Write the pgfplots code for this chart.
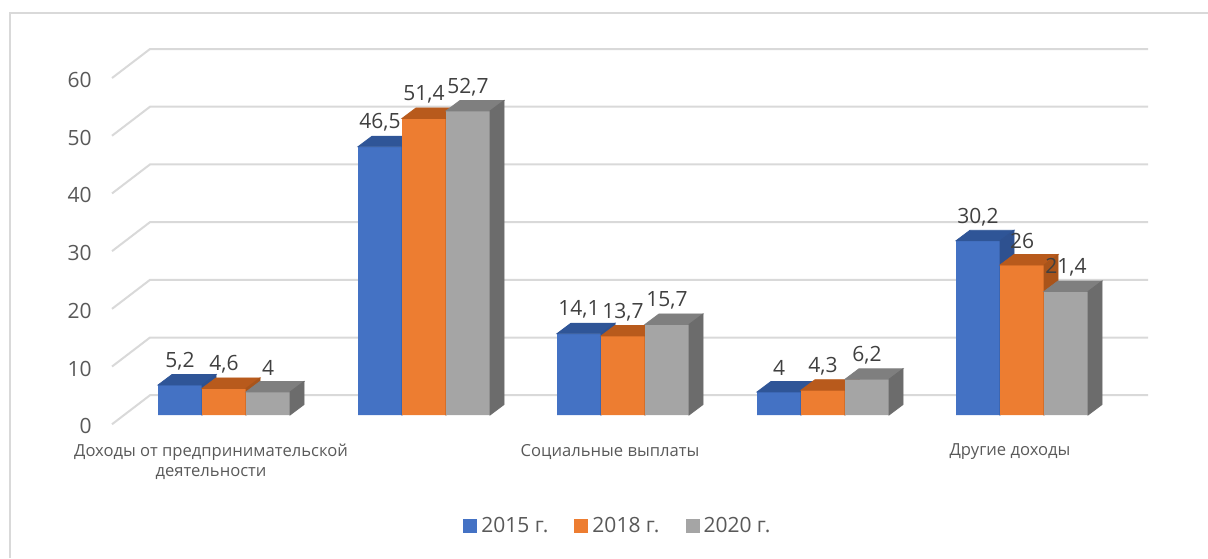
\documentclass[border=0pt]{standalone}
\usepackage{pgfplots}
\usepackage{pgfplotstable}
\pgfplotsset{compat=1.18}
\usepackage{fontspec}
\setmainfont{Open Sans}
\definecolor{c1}{HTML}{4472C4}
\definecolor{c2}{HTML}{ED7D31}
\definecolor{c3}{HTML}{A5A5A5}
\definecolor{t1}{HTML}{2F5597}
\definecolor{t2}{HTML}{B85A1C}
\definecolor{t3}{HTML}{7F7F7F}
\definecolor{s1}{HTML}{2E5190}
\definecolor{s2}{HTML}{A9541A}
\definecolor{s3}{HTML}{6C6C6C}
\definecolor{gridc}{HTML}{D9D9D9}
\definecolor{txt}{HTML}{595959}
\newcommand\defbarmark[3]{%
 \pgfdeclareplotmark{#1}{%
  \pgfmathsetmacro\hh{\myh*2.885}%
  \pgfmathsetmacro\hb{5.25-\hh}%
  \fill[#2] (-11pt,0pt) -- (11pt,0pt) -- (18pt,5.25pt) -- (-4pt,5.25pt) -- cycle;
  \fill[#3] (11pt,0pt) -- (18pt,5.25pt) -- (18pt,\hb pt) -- (11pt,-\hh pt) -- cycle;
 }}
\defbarmark{bthreeA}{t1}{s1}
\defbarmark{bthreeB}{t2}{s2}
\defbarmark{bthreeC}{t3}{s3}
\pgfplotstableread{
x a b c
224 5.2 4.6 4
424 46.5 51.4 52.7
623 14.1 13.7 15.7
823 4 4.3 6.2
1022 30.2 26 21.4
}\data
\pgfplotsset{
 mybar/.style={ybar, bar width=44, draw=none,
   legend image code/.code={\fill[##1,draw=none] (0pt,-3.5pt) rectangle (7pt,3.5pt);}},
 mytop/.style={forget plot, only marks, mark=#1,
   visualization depends on={rawy \as \myh},
   nodes near coords,
   every node near coord/.append style={anchor=center, yshift=12pt, text=black!75, font=\fontsize{10.5}{12}\selectfont}},
}
\begin{document}
\begin{tikzpicture}
\begin{axis}[
 x=0.5pt, y=2.885pt,
 xmin=0, xmax=1208, ymin=-24.78, ymax=71.92,
 clip=false, clip marker paths=true,
 axis line style={draw=none}, major tick length=0pt,
 /pgf/number format/.cd, use comma, assume math mode=true, /pgfplots/.cd,
 ytick={0,10,...,60},
 yticklabel style={anchor=east, inner sep=0pt, xshift=46pt, yshift=-5.6pt, text=txt, font=\fontsize{10.5}{12}\selectfont},
 xtick={211,610,1010},
 xticklabels={{Доходы от предпринимательской\\деятельности},{Социальные выплаты},{Другие доходы}},
 xticklabel style={anchor=north, align=center, yshift=60.5pt, text=txt, font=\fontsize{8.3}{10}\selectfont},
 legend style={at={(0.5124,0.0573)}, anchor=center, draw=none, fill=none,
   legend columns=3, font=\fontsize{10.5}{12}\selectfont, text=txt,
   /tikz/every even column/.append style={column sep=11pt}},
]
\pgfplotsinvokeforeach{0,1,2,3,4,5,6}{
 \draw[gridc, line width=1pt] (axis cs:112,{10*#1-1.6}) -- (axis cs:150,{10*#1+3.43}) -- (axis cs:1148,{10*#1+3.43});
}
\addplot[mybar, fill=c1, bar shift=-44] table[x=x,y=a]{\data};
\addlegendentry{2015 г.}
\addplot[mytop=bthreeA] table[x expr=\thisrow{x}-44,y=a]{\data};
\addplot[mybar, fill=c2, bar shift=0] table[x=x,y=b]{\data};
\addlegendentry{2018 г.}
\addplot[mytop=bthreeB] table[x=x,y=b]{\data};
\addplot[mybar, fill=c3, bar shift=44] table[x=x,y=c]{\data};
\addlegendentry{2020 г.}
\addplot[mytop=bthreeC] table[x expr=\thisrow{x}+44,y=c]{\data};
\end{axis}
\draw[gridc, line width=1pt] (5pt,0pt) -- (5pt,272.5pt) -- (604pt,272.5pt);
\pgfresetboundingbox
\path (0,0) rectangle (604pt,279pt);
\end{tikzpicture}
\end{document}
